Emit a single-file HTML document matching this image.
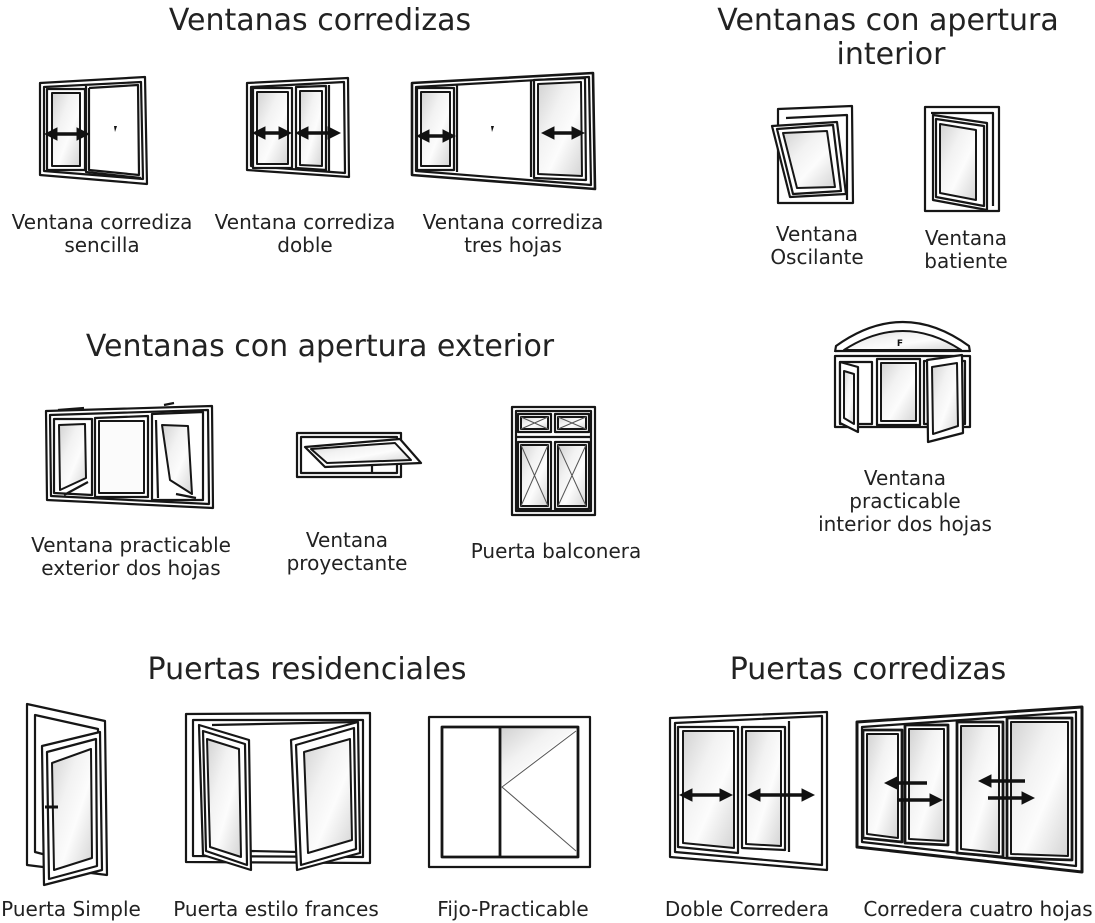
<!DOCTYPE html>
<html>
<head>
<meta charset="utf-8">
<style>
html,body{margin:0;padding:0;background:#fff;}
svg{display:block;}
.t{font-family:"DejaVu Sans","Liberation Sans",sans-serif;fill:#222;}
.h{font-size:30px;}
.l{font-size:20px;}
.f{fill:none;stroke:#161616;stroke-width:2.2;stroke-linejoin:round;}
.w{fill:#fff;stroke:#161616;stroke-width:2.2;stroke-linejoin:round;}
.g{fill:url(#gl);stroke:#161616;stroke-width:2;stroke-linejoin:round;}
.thin{fill:none;stroke:#555;stroke-width:1;}
.ar{fill:none;stroke:#111;stroke-width:3.4;}
</style>
</head>
<body>
<svg width="1095" height="923" viewBox="0 0 1095 923" xmlns="http://www.w3.org/2000/svg">
<defs>
<linearGradient id="gl" x1="0" y1="0" x2="1" y2="1">
<stop offset="0" stop-color="#d2d2d2"/>
<stop offset="0.35" stop-color="#f2f2f2"/>
<stop offset="0.6" stop-color="#fcfcfc"/>
<stop offset="1" stop-color="#d4d4d4"/>
</linearGradient>
<marker id="ah" markerWidth="4" markerHeight="4" refX="2.2" refY="2" orient="auto-start-reverse" markerUnits="strokeWidth">
<path d="M0,0 L4,2 L0,4 z" fill="#111"/>
</marker>
</defs>

<!-- ===== Titles ===== -->
<text class="t h" x="320" y="30" text-anchor="middle">Ventanas corredizas</text>
<text class="t h" x="888" y="30" text-anchor="middle">Ventanas con apertura</text>
<text class="t h" x="891" y="64" text-anchor="middle">interior</text>
<text class="t h" x="320" y="356" text-anchor="middle">Ventanas con apertura exterior</text>
<text class="t h" x="307" y="679" text-anchor="middle">Puertas residenciales</text>
<text class="t h" x="868" y="679" text-anchor="middle">Puertas corredizas</text>

<!-- ===== Labels ===== -->
<text class="t l" x="102" y="229" text-anchor="middle">Ventana corrediza</text>
<text class="t l" x="102" y="252" text-anchor="middle">sencilla</text>
<text class="t l" x="305" y="229" text-anchor="middle">Ventana corrediza</text>
<text class="t l" x="305" y="252" text-anchor="middle">doble</text>
<text class="t l" x="513" y="229" text-anchor="middle">Ventana corrediza</text>
<text class="t l" x="513" y="252" text-anchor="middle">tres hojas</text>
<text class="t l" x="817" y="241" text-anchor="middle">Ventana</text>
<text class="t l" x="817" y="264" text-anchor="middle">Oscilante</text>
<text class="t l" x="966" y="245" text-anchor="middle">Ventana</text>
<text class="t l" x="966" y="268" text-anchor="middle">batiente</text>
<text class="t l" x="905" y="485" text-anchor="middle">Ventana</text>
<text class="t l" x="905" y="508" text-anchor="middle">practicable</text>
<text class="t l" x="905" y="531" text-anchor="middle">interior dos hojas</text>
<text class="t l" x="131" y="552" text-anchor="middle">Ventana practicable</text>
<text class="t l" x="131" y="575" text-anchor="middle">exterior dos hojas</text>
<text class="t l" x="347" y="547" text-anchor="middle">Ventana</text>
<text class="t l" x="347" y="570" text-anchor="middle">proyectante</text>
<text class="t l" x="556" y="558" text-anchor="middle">Puerta balconera</text>
<text class="t l" x="71" y="916" text-anchor="middle">Puerta Simple</text>
<text class="t l" x="276" y="916" text-anchor="middle">Puerta estilo frances</text>
<text class="t l" x="513" y="916" text-anchor="middle">Fijo-Practicable</text>
<text class="t l" x="747" y="916" text-anchor="middle">Doble Corredera</text>
<text class="t l" x="978" y="916" text-anchor="middle">Corredera cuatro hojas</text>

<!-- ===== Ventana corrediza sencilla ===== -->
<polygon class="f" points="40,83 145,77 147,184 40,175"/>
<polygon class="f" points="44,87 141,82 143,179 44,171"/>
<polygon class="w" points="47,89 85,89 85,170 47,170"/>
<polygon class="g" points="52,93 80,93 80,166 52,166"/>
<polyline class="f" points="86,86 86,172 141,178"/>
<polyline class="f" points="89,88 138,85 139,175 89,170 89,88"/>
<line class="ar" x1="50" y1="134" x2="84" y2="134" marker-start="url(#ah)" marker-end="url(#ah)"/>
<path d="M114,126 l3,0 l-2,6 z" fill="#111"/>

<!-- ===== Ventana corrediza doble ===== -->
<polygon class="f" points="247,83 348,78 349,177 247,170"/>
<polygon class="f" points="251,87 344,82 345,173 251,166"/>
<polygon class="w" points="253,88 292,88 292,168 253,168"/>
<polygon class="g" points="257,92 288,92 288,164 257,164"/>
<polygon class="w" points="296,87 326,86 326,170 296,168"/>
<polygon class="g" points="300,91 322,91 322,166 300,165"/>
<line class="f" x1="329" y1="85" x2="329" y2="171"/>
<line class="ar" x1="258" y1="133" x2="286" y2="133" marker-start="url(#ah)" marker-end="url(#ah)"/>
<line class="ar" x1="301" y1="133" x2="335" y2="133" marker-start="url(#ah)" marker-end="url(#ah)"/>

<!-- ===== Ventana corrediza tres hojas ===== -->
<polygon class="f" points="412,83 593,73 595,189 412,175" style="stroke-width:2.6"/>
<polygon class="f" points="416,87 589,77 591,185 416,171"/>
<polygon class="w" points="417,88 454,88 454,170 417,170"/>
<polygon class="g" points="421,92 450,92 450,166 421,166"/>
<line class="f" x1="457" y1="84" x2="457" y2="172"/>
<line class="f" x1="531" y1="80" x2="531" y2="177"/>
<polygon class="w" points="534,80 585,78 586,180 534,178"/>
<polygon class="g" points="538,84 581,82 582,176 538,174"/>
<line class="ar" x1="422" y1="136" x2="450" y2="136" marker-start="url(#ah)" marker-end="url(#ah)"/>
<line class="ar" x1="547" y1="133" x2="579" y2="133" marker-start="url(#ah)" marker-end="url(#ah)"/>
<path d="M491,126 l3,0 l-2,6 z" fill="#111"/>

<!-- ===== Ventana Oscilante ===== -->
<polygon class="f" points="778,109 852,106 853,203 778,203"/>
<polyline class="f" points="786,118 847,115 847,200"/>
<polygon class="w" points="772,126 837,122 846,194 790,197"/>
<polygon class="f" points="777,129 833,125 841,191 793,194"/>
<polygon class="g" points="783,133 827,131 835,187 797,188"/>

<!-- ===== Ventana batiente ===== -->
<rect class="f" x="925" y="107" width="74" height="104"/>
<polyline class="f" points="931,113 993,113 993,206"/>
<polygon class="w" points="933,115 987,123 987,210 933,200"/>
<polygon class="f" points="936,119 984,126 984,206 936,197"/>
<polygon class="g" points="940,124 976,130 976,200 940,193"/>

<!-- ===== Ventana practicable interior dos hojas ===== -->
<path class="f" d="M835,352 L836,346 Q903,298 969,346 L970,352"/>
<path class="g" d="M844,350 Q903,312 961,350 Z" style="stroke-width:2"/>
<line class="f" x1="835" y1="351" x2="970" y2="351"/>
<rect class="f" x="835" y="356" width="135" height="71"/>
<rect class="f" x="840" y="362" width="32" height="62"/>
<rect class="f" x="877" y="359" width="43" height="66"/>
<rect class="g" x="881" y="363" width="35" height="58"/>
<rect class="f" x="924" y="361" width="41" height="63"/>
<polygon class="w" points="840,362 858,367 858,432 840,423"/>
<polygon class="g" points="844,371 854,374 854,424 844,418"/>
<polygon class="w" points="927,360 962,355 963,433 928,442"/>
<polygon class="g" points="932,367 957,363 958,426 933,434"/>
<text x="900" y="346" font-family="DejaVu Sans,sans-serif" font-size="9" font-weight="bold" fill="#111" text-anchor="middle">F</text>

<!-- ===== Ventana practicable exterior dos hojas ===== -->
<polygon class="f" points="46,411 212,406 213,508 47,500"/>
<polygon class="f" points="50,415 208,410 209,504 51,496"/>
<path class="f" d="M58,410 L84,408 M164,405 L174,403"/>
<polygon class="f" points="54,419 92,419 92,495 54,493"/>
<polygon class="g" points="59,425 85,424 86,478 60,490"/>
<path class="f" d="M64,495 L88,482"/>
<polygon class="f" points="95,418 148,416 148,497 95,497"/>
<rect class="g" x="99" y="421" width="45" height="72" style="fill:#fbfbfb"/>
<polygon class="f" points="152,414 203,412 203,500 152,500"/>
<polygon class="g" points="162,425 188,426 192,494 170,480"/>
<path class="f" d="M156,420 L158,498 M176,494 L196,498"/>

<!-- ===== Ventana proyectante ===== -->
<rect class="f" x="297" y="433" width="104" height="44"/>
<rect class="f" x="301" y="437" width="96" height="36"/>
<polygon class="w" points="305,447 400,439 421,463 325,467"/>
<polygon class="g" points="311,449 395,443 411,460 327,463"/>
<line class="f" x1="372" y1="466" x2="372" y2="473"/>

<!-- ===== Puerta balconera ===== -->
<rect class="f" x="512" y="407" width="83" height="108"/>
<rect class="f" x="516" y="411" width="75" height="100"/>
<rect class="f" x="518" y="414" width="33" height="18"/>
<rect class="g" x="521" y="417" width="27" height="12"/>
<rect class="f" x="555" y="414" width="34" height="18"/>
<rect class="g" x="558" y="417" width="28" height="12"/>
<path class="thin" d="M521,417 L548,429 M548,417 L521,429 M558,417 L586,429 M586,417 L558,429"/>
<line class="f" x1="516" y1="437" x2="591" y2="437"/>
<rect class="f" x="518" y="442" width="33" height="67"/>
<rect class="g" x="521" y="445" width="27" height="61"/>
<rect class="f" x="555" y="442" width="34" height="67"/>
<rect class="g" x="558" y="445" width="28" height="61"/>
<path class="thin" d="M521,445 L548,506 M548,445 L521,506 M558,445 L586,506 M586,445 L558,506"/>

<!-- ===== Puerta Simple ===== -->
<polygon class="f" points="27,704 105,721 107,875 27,865"/>
<polygon class="f" points="35,715 98,729 99,869 35,852"/>
<polygon class="w" points="42,746 100,732 102,870 44,885"/>
<polygon class="f" points="47,752 96,739 97,866 49,879"/>
<polygon class="g" points="52,763 91,749 92,858 54,870"/>
<line x1="45" y1="807" x2="58" y2="807" stroke="#111" stroke-width="3"/>

<!-- ===== Puerta estilo frances ===== -->
<polygon class="f" points="186,714 370,713 370,863 186,862"/>
<polygon class="f" points="193,720 363,720 363,857 193,856"/>
<line class="f" x1="212" y1="725" x2="358" y2="722"/>
<line class="f" x1="250" y1="851" x2="298" y2="852"/>
<polygon class="w" points="199,725 249,740 251,870 203,855"/>
<polygon class="f" points="203,731 245,744 247,865 206,851"/>
<polygon class="g" points="207,739 239,749 241,857 210,847"/>
<polygon class="w" points="291,740 358,722 360,853 297,870"/>
<polygon class="f" points="296,745 354,728 356,849 301,865"/>
<polygon class="g" points="304,752 350,739 352,840 308,853"/>

<!-- ===== Fijo-Practicable ===== -->
<rect class="f" x="429" y="717" width="161" height="150"/>
<rect class="f" x="442" y="727" width="136" height="130" style="stroke-width:2.8"/>
<polygon points="501,729 576,729 501,786" fill="url(#gl)"/>
<line class="f" x1="500" y1="727" x2="500" y2="857" style="stroke-width:2.8"/>
<polyline class="thin" points="576,731 502,787 576,851"/>

<!-- ===== Doble Corredera ===== -->
<polygon class="f" points="670,718 827,712 827,870 670,857"/>
<polygon class="f" points="675,723 822,716 822,865 675,852"/>
<polygon class="w" points="678,727 738,727 738,853 678,847"/>
<polygon class="g" points="683,731 734,731 734,848 683,843"/>
<polygon class="w" points="742,727 785,727 785,850 742,848"/>
<polygon class="g" points="746,731 781,731 781,846 746,844"/>
<line class="f" x1="789" y1="721" x2="789" y2="852"/>
<line class="ar" x1="685" y1="795" x2="727" y2="795" marker-start="url(#ah)" marker-end="url(#ah)"/>
<line class="ar" x1="753" y1="795" x2="809" y2="795" marker-start="url(#ah)" marker-end="url(#ah)"/>

<!-- ===== Corredera cuatro hojas ===== -->
<polygon class="f" points="857,722 1082,707 1082,872 857,847" style="stroke-width:3"/>
<polygon class="f" points="862,727 1076,712 1076,866 862,842"/>
<polygon class="w" points="863,730 902,730 902,842 863,838" style="stroke-width:2.8"/>
<polygon class="g" points="867,734 898,734 898,838 867,834"/>
<polygon class="w" points="905,725 948,725 948,845 905,843" style="stroke-width:2.8"/>
<polygon class="g" points="909,729 944,729 944,841 909,839"/>
<polygon class="w" points="957,722 1003,722 1003,857 957,853" style="stroke-width:2.8"/>
<polygon class="g" points="961,726 999,726 999,853 961,849"/>
<polygon class="w" points="1007,718 1072,718 1072,860 1007,858" style="stroke-width:2.8"/>
<polygon class="g" points="1011,722 1068,722 1068,856 1011,854"/>
<line class="ar" x1="927" y1="783" x2="890" y2="783" marker-end="url(#ah)"/>
<line class="ar" x1="897" y1="800" x2="937" y2="800" marker-end="url(#ah)"/>
<line class="ar" x1="1025" y1="781" x2="984" y2="781" marker-end="url(#ah)"/>
<line class="ar" x1="988" y1="798" x2="1029" y2="798" marker-end="url(#ah)"/>
</svg>
</body>
</html>
